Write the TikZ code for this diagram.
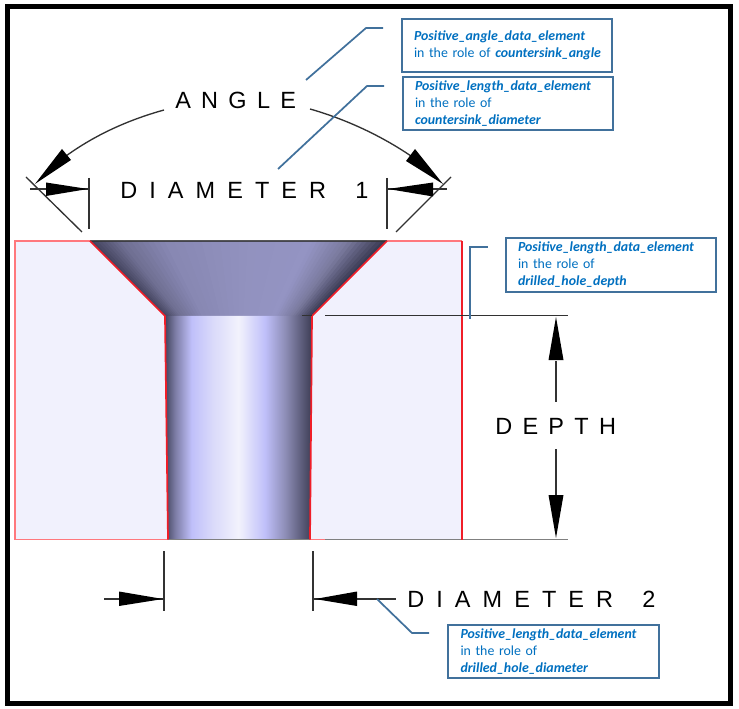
\documentclass[tikz,border=0pt]{standalone}
\usepackage{fontspec}
\setmainfont{Carlito}
\newfontfamily\dimfont[LetterSpace=44]{Liberation Sans}
\newfontfamily\dimwide[LetterSpace=51.5]{Liberation Sans}
\definecolor{leader}{RGB}{65,113,156}
\definecolor{labelblue}{RGB}{0,112,192}
\definecolor{bodyfill}{RGB}{241,241,253}
\definecolor{redsoft}{RGB}{255,120,125}
\definecolor{redhard}{RGB}{240,30,40}
\definecolor{dimline}{RGB}{50,50,50}
% cone colours
\definecolor{ca}{RGB}{66,66,92}
\definecolor{cb}{RGB}{110,110,145}
\definecolor{cc}{RGB}{135,135,178}
\definecolor{cd}{RGB}{145,145,190}
\definecolor{ce}{RGB}{148,148,195}
\definecolor{cf}{RGB}{122,122,158}
\definecolor{cg}{RGB}{56,56,80}
\pgfdeclarehorizontalshading{cylshade}{100bp}{
 rgb(0bp)=(.26,.27,.37);
 rgb(25bp)=(.26,.27,.37);
 rgb(28.5bp)=(.49,.49,.65);
 rgb(34bp)=(.75,.75,.98);
 rgb(41bp)=(.85,.85,.98);
 rgb(50bp)=(.95,.95,.99);
 rgb(59bp)=(.75,.75,.98);
 rgb(66bp)=(.55,.55,.71);
 rgb(75bp)=(.24,.24,.33);
 rgb(100bp)=(.24,.24,.33)}
\tikzset{
 px/.style={x=0.75pt,y=-0.75pt},
 dimtext/.style={anchor=base west,inner sep=0pt,text=black},
 narrowdim/.style={dimtext,font=\dimfont\fontsize{17.6pt}{20pt}\selectfont},
 widedim/.style={dimtext,font=\dimwide\fontsize{17.6pt}{20pt}\selectfont},
 infobox/.style={draw=leader,line width=1.5pt,fill=white,anchor=north west,inner xsep=9pt,inner ysep=0pt,text=labelblue,align=left,font=\fontsize{10.4pt}{12.75pt}\selectfont,text width=139.5pt},
 leaderline/.style={draw=leader,line width=1.3pt},
 dimstroke/.style={draw=dimline,line width=1pt},
 dimhead/.style={fill=black},
 soft/.style={draw=redsoft,line width=1.4pt},
 hard/.style={draw=redhard,line width=1.3pt},
}
\newcommand{\ib}[1]{\textbf{\textit{#1}}}
\begin{document}
\begin{tikzpicture}[px]
\useasboundingbox (0,0) rectangle (739,709);
\fill[white] (0,0) rectangle (739,709);
\draw[black,line width=3.75pt] (7.5,6.5) rectangle (730.5,703.5);
% body
\fill[bodyfill] (15,241) rectangle (462,539.5);
% cone
\begin{scope}
\clip (90,241) -- (387,241) -- (312,316) -- (165,316) -- cycle;
\foreach \ca/\cb/\sa/\sb in {ca/cb/0/0.10, cb/cc/0.10/0.25, cc/cd/0.25/0.50, cd/ce/0.50/0.75, ce/cf/0.75/0.87, cf/cg/0.87/1}{
  \foreach \i in {0,...,7}{
    \pgfmathsetmacro{\ta}{\sa+(\sb-\sa)*\i/8}
    \pgfmathsetmacro{\tb}{\sa+(\sb-\sa)*(\i+2)/8}
    \pgfmathsetmacro{\pct}{100-100*(\i+0.5)/8}
    \fill[color=\ca!\pct!\cb] ({90+297*\ta},241) -- ({90+297*\tb},241) -- ({165+147*\tb},316) -- ({165+147*\ta},316) -- cycle;
  }
}
\end{scope}
% cylinder
\begin{scope}
\clip (165,316) -- (312,316) -- (310,539.5) -- (168,539.5) -- cycle;
\shade[shading=cylshade] (165,316) rectangle (312,539.5);
\end{scope}
% outlines
\draw[dimline,line width=1.1pt,opacity=.8] (90,241) -- (387,241);
\draw[draw=gray,line width=1.1pt] (168,539.5) -- (568,539.5);
\draw[soft] (90,241) -- (15,241) -- (15,539.5) -- (168,539.5);
\draw[soft] (387,241) -- (462,241);
\draw[soft] (310,539.5) -- (325,539.5);
\draw[hard] (90,241) -- (165,316) -- (168,539.5);
\draw[hard] (387,241) -- (312,316) -- (310,539.5);
\draw[hard] (462,241) -- (462,539.5);
% angle
\draw[dimstroke] (164,110) .. controls (128,120) and (95,135) .. (66,156);
\draw[dimstroke] (310,109) .. controls (345,119) and (380,135) .. (411,156);
\fill[dimhead] (35,184) -- (62,149) -- (71,160) -- cycle;
\fill[dimhead] (443,184) -- (415,149) -- (406,161) -- cycle;
% diameter 1 extension lines
\draw[dimstroke] (26,177) -- (82,232);
\draw[dimstroke] (451,177) -- (396,232);
\draw[dimstroke] (89,178) -- (89,229);
\draw[dimstroke] (387,178) -- (387,229);
\draw[dimstroke] (30,189) -- (89,189);
\draw[dimstroke] (387,189) -- (447,189);
\fill[dimhead] (88,189) -- (46,182.5) -- (46,196) -- cycle;
\fill[dimhead] (388,189) -- (433,182.5) -- (433,196.5) -- cycle;
% depth
\draw[dimstroke] (325,315.5) -- (568,315.5);
\draw[dimline,line width=1pt] (302,315.5) -- (312,315.5);
\draw[dimstroke] (556,361) -- (556,402);
\draw[dimstroke] (556,449) -- (556,495);
\fill[dimhead] (556,317) -- (548.5,360) -- (563.5,360) -- cycle;
\fill[dimhead] (556,538) -- (548.5,495) -- (563.5,495) -- cycle;
% diameter 2
\draw[dimstroke] (164,551) -- (164,611);
\draw[dimstroke] (313,551) -- (313,611);
\draw[dimstroke] (104,599) -- (164,599);
\draw[dimstroke] (313,599) -- (396,599);
\fill[dimhead] (163,599) -- (119,591.5) -- (119,606) -- cycle;
\fill[dimhead] (315,599) -- (357,591.5) -- (357,606) -- cycle;
% texts
\node[narrowdim] (tangle) at (175,109) {ANGLE};
\node[widedim] (tdia1) at (120,198.5) {DIAMETER \hspace*{8pt}1};
\node[narrowdim] (tdepth) at (495,434) {DEPTH};
\node[widedim] (tdia2) at (407,607) {DIAMETER \hspace*{8pt}2};
% boxes
\node[infobox,minimum width=157.5pt,minimum height=39.75pt] (b1) at (401,18) {\ib{Positive\_angle\_data\_element}\\\mbox{in the role of \ib{countersink\_angle}}};
\node[infobox,minimum width=157.5pt,minimum height=39.75pt] (b2) at (402,76) {\ib{Positive\_length\_data\_element}\\in the role of\\\ib{countersink\_diameter}};
\node[infobox,minimum width=157.5pt,minimum height=40.5pt] (b3) at (505,237) {\ib{Positive\_length\_data\_element}\\in the role of\\\ib{drilled\_hole\_depth}};
\node[infobox,minimum width=158.25pt,minimum height=39.75pt] (b4) at (447,624) {\ib{Positive\_length\_data\_element}\\in the role of\\\ib{drilled\_hole\_diameter}};
% leaders
\coordinate (l1a) at (306,80); \coordinate (l1b) at (366,28); \coordinate (l1c) at (383,28);
\coordinate (l2a) at (278,169); \coordinate (l2b) at (367,86); \coordinate (l2c) at (384,86);
\coordinate (l3a) at (470,319); \coordinate (l3b) at (470,247); \coordinate (l3c) at (488,247);
\coordinate (l4a) at (377,599); \coordinate (l4b) at (412,633); \coordinate (l4c) at (429,633);
\draw[leaderline] (l1a) -- (l1b) -- (l1c);
\draw[leaderline] (l2a) -- (l2b) -- (l2c);
\draw[leaderline] (l3a) -- (l3b) -- (l3c);
\draw[leaderline] (l4a) -- (l4b) -- (l4c);
\end{tikzpicture}
\end{document}
